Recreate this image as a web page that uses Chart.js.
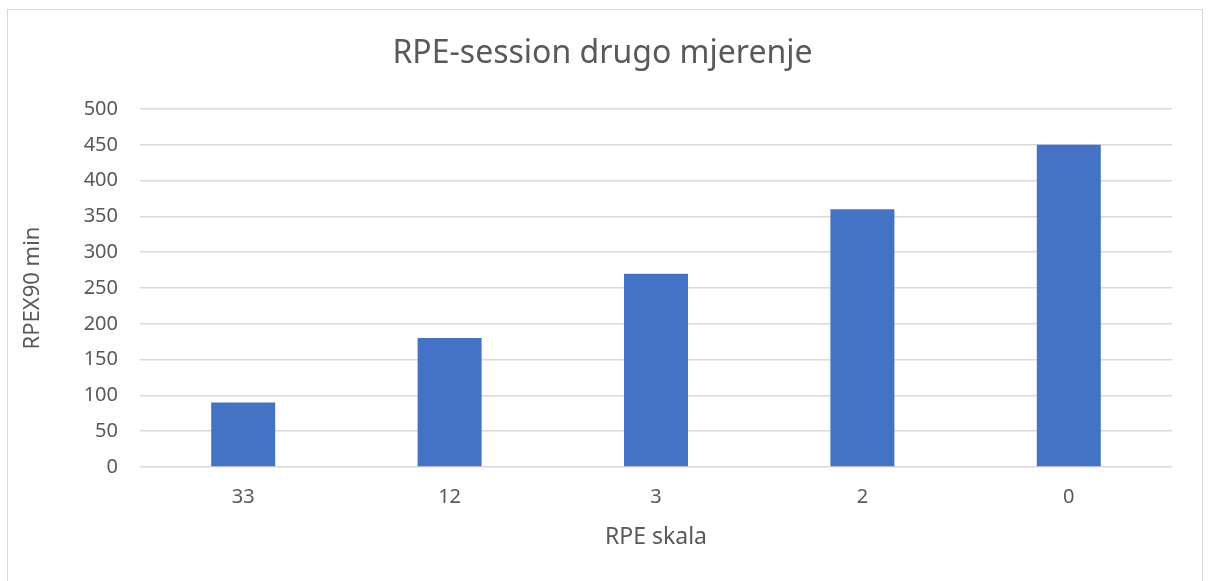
<!DOCTYPE html>
<html>
<head>
<meta charset="utf-8">
<script src="https://cdn.jsdelivr.net/npm/chart.js@4/dist/chart.umd.min.js"></script>
<style>
  html, body { margin: 0; padding: 0; background: #fff; }
  #wrap { width: 1208px; height: 581px; position: relative; }
</style>
</head>
<body>
<div id="wrap"><canvas id="c" width="1208" height="581"></canvas></div>
<script>
const categories = ["33", "12", "3", "2", "0"];
const values = [90, 180, 270, 360, 450];
const chartTitle = "RPE-session drugo mjerenje";
const xTitle = "RPE skala";
const yTitle = "RPEX90 min";

const FONT = "'Noto Sans', 'Open Sans', sans-serif";
const TEXT = "#595959";
const GRID = "#d9d9d9";

const borderPlugin = {
  id: 'outerBorder',
  beforeDraw(chart) {
    const ctx = chart.ctx;
    ctx.save();
    ctx.fillStyle = '#ffffff';
    ctx.fillRect(0, 0, chart.width, chart.height);
    ctx.strokeStyle = '#d9d9d9';
    ctx.lineWidth = 1;
    ctx.strokeRect(7.5, 9.5, 1195, 600);
    ctx.restore();
  }
};

new Chart(document.getElementById('c'), {
  type: 'bar',
  data: {
    labels: categories,
    datasets: [{
      data: values,
      backgroundColor: '#4472C4',
      borderWidth: 0,
      categoryPercentage: 1,
      barPercentage: 0.31,
      yAxisID: 'y'
    }]
  },
  options: {
    responsive: false,
    animation: false,
    events: [],
    layout: { padding: { top: 0, left: 20, right: 23, bottom: 0 } },
    plugins: {
      legend: { display: false },
      tooltip: { enabled: false },
      title: {
        display: true,
        text: chartTitle,
        color: TEXT,
        font: { family: FONT, size: 32, weight: 'normal', lineHeight: 1.2 },
        padding: { top: 35, bottom: 35.6 }
      }
    },
    scales: {
      x: {
        grid: { display: false, drawTicks: false },
        border: { display: false },
        ticks: { color: TEXT, font: { family: FONT, size: 20 }, padding: 18 },
        title: {
          display: true, text: xTitle, color: TEXT,
          font: { family: FONT, size: 23, lineHeight: 1.2 },
          padding: { top: 0, bottom: 30 }
        },
        afterFit(s) { s.height = 114; }
      },
      y: {
        min: 0, max: 500,
        grid: { color: GRID, lineWidth: 1.5, drawTicks: false },
        border: { display: false },
        ticks: { stepSize: 50, color: TEXT, font: { family: FONT, size: 20 }, padding: 22 },
        title: {
          display: true, text: yTitle, color: TEXT,
          font: { family: FONT, size: 22, lineHeight: 1.2 },
          padding: { top: 0, bottom: 0 }
        },
        afterFit(s) { s.width = 120; }
      },
      yRight: {
        position: 'right',
        min: 0, max: 500,
        grid: { display: false, drawTicks: false },
        border: { display: false },
        ticks: { display: false },
        afterFit(s) { s.width = 13; }
      }
    }
  },
  plugins: [borderPlugin]
});
</script>
</body>
</html>
